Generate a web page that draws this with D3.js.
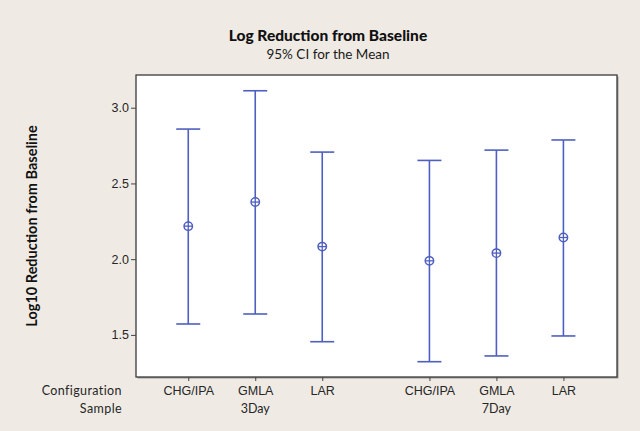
<!DOCTYPE html>
<html><head><meta charset="utf-8">
<script src="https://cdn.jsdelivr.net/npm/d3@7"></script>
<style>
html,body{margin:0;padding:0;background:#efebe4;}
svg{display:block;font-family:Lato,"Open Sans",sans-serif;}
</style></head>
<body>
<svg id="c" width="640" height="431"></svg>
<script>
const configs = ["CHG/IPA","GMLA","LAR","CHG/IPA","GMLA","LAR"];
const samples = ["3Day","3Day","3Day","7Day","7Day","7Day"];
const positions = [0,1,2,3.6,4.6,5.6];
const means = [2.218,2.377,2.083,1.989,2.040,2.143];
const upper = [2.859,3.112,2.707,2.652,2.720,2.787];
const lower = [1.572,1.638,1.455,1.323,1.361,1.493];
const yTicks = [1.5,2.0,2.5,3.0];
const sampleGroups = ["3Day","7Day"];

const svg = d3.select("#c");
const L=136,R=617,T=75,B=377;
const x = d3.scaleLinear().domain([-0.78,6.4]).range([L,R]);
const y = d3.scaleLinear().domain([1.222,3.216]).range([B,T]);
const col = "#4f5fbf";
const txt = "#262626";

// shadow + frame
svg.append("rect").attr("x",L+1.5).attr("y",T+1.5).attr("width",R-L).attr("height",B-T).attr("fill","#9a9a9a");
svg.append("rect").attr("x",L).attr("y",T).attr("width",R-L).attr("height",B-T).attr("fill","#fff").attr("stroke","#3a3a3a").attr("stroke-width",1.3);

// y axis
const ya = svg.append("g").attr("transform",`translate(${L},0)`)
  .call(d3.axisLeft(y).tickValues(yTicks).tickFormat(d3.format(".1f")).tickSize(5).tickSizeOuter(0));
ya.select(".domain").remove();
ya.selectAll("line").attr("stroke","#444");
ya.selectAll("text").attr("font-size",12.5).attr("fill",txt).attr("x",-7);

// x axis ticks
const xa = svg.append("g").attr("transform",`translate(0,${B})`)
  .call(d3.axisBottom(x).tickValues(positions).tickFormat((d,i)=>configs[i]).tickSize(4).tickSizeOuter(0));
xa.select(".domain").remove();
xa.selectAll("line").attr("stroke","#444");
xa.selectAll("text").attr("font-size",12.5).attr("fill",txt).attr("dy",0).attr("y",18);

// sample labels (centre of group)
sampleGroups.forEach(g=>{
  const ps = positions.filter((p,i)=>samples[i]===g);
  svg.append("text").attr("x",x(d3.mean(ps))).attr("y",413).attr("text-anchor","middle")
    .attr("font-size",12.5).attr("fill",txt).text(g);
});
svg.append("text").attr("x",122).attr("y",395).attr("text-anchor","end").attr("font-size",12.5).attr("fill",txt).attr("letter-spacing",0.4).text("Configuration");
svg.append("text").attr("x",122).attr("y",413).attr("text-anchor","end").attr("font-size",12.5).attr("fill",txt).attr("letter-spacing",0.4).text("Sample");

// intervals
const g = svg.append("g").attr("stroke",col).attr("stroke-width",1.6).attr("fill","none");
positions.forEach((p,i)=>{
  const cx=x(p);
  g.append("line").attr("x1",cx).attr("x2",cx).attr("y1",y(upper[i])).attr("y2",y(lower[i]));
  g.append("line").attr("x1",cx-12).attr("x2",cx+12).attr("y1",y(upper[i])).attr("y2",y(upper[i]));
  g.append("line").attr("x1",cx-12).attr("x2",cx+12).attr("y1",y(lower[i])).attr("y2",y(lower[i]));
  g.append("circle").attr("cx",cx).attr("cy",y(means[i])).attr("r",4.2).attr("fill","#fff").attr("stroke-width",1.5);
  g.append("line").attr("x1",cx-4.2).attr("x2",cx+4.2).attr("y1",y(means[i])).attr("y2",y(means[i])).attr("stroke-width",1.3);
  g.append("line").attr("x1",cx).attr("x2",cx).attr("y1",y(means[i])-4.2).attr("y2",y(means[i])+4.2).attr("stroke-width",1.3);
});

// titles
svg.append("text").attr("x",328).attr("y",41).attr("text-anchor","middle").attr("font-size",15.5).attr("font-weight","900").attr("fill","#111").text("Log Reduction from Baseline");
svg.append("text").attr("x",328).attr("y",59).attr("text-anchor","middle").attr("font-size",13.5).attr("fill","#1a1a1a").text("95% CI for the Mean");
svg.append("text").attr("transform","translate(37,226) rotate(-90)").attr("text-anchor","middle").attr("font-size",14.5).attr("font-weight","bold").attr("fill","#111").text("Log10 Reduction from Baseline");
</script>
</body></html>
